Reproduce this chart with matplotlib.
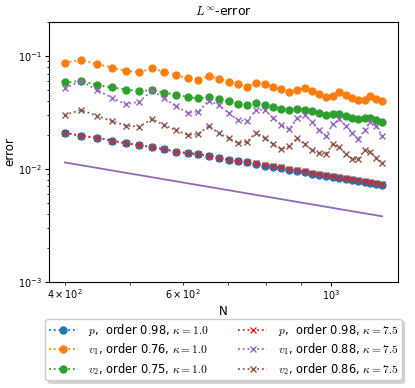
import matplotlib
matplotlib.use("Agg")
import matplotlib.pyplot as plt

plt.rcParams["mathtext.fontset"] = "cm"
plt.rcParams["font.family"] = ["DejaVu Sans"]

# grid sizes
N = [400, 423, 447, 470, 493, 517, 540, 563, 586, 610, 633, 656, 679, 703, 726, 749, 772, 796,
     819, 842, 865, 889, 912, 935, 958, 982, 1005, 1028, 1051, 1075, 1098, 1121, 1144, 1168, 1191]

# kappa = 1.0
p_k1 = [0.0208, 0.0197, 0.0188, 0.0178, 0.0169, 0.0162, 0.0156, 0.0149, 0.0142, 0.0138, 0.0135, 0.0130,
        0.0126, 0.0120, 0.0117, 0.0114, 0.0110, 0.0107, 0.0104, 0.0101, 0.00980, 0.00960, 0.00935,
        0.00909, 0.00885, 0.00867, 0.00850, 0.00827, 0.00811, 0.00795, 0.00783, 0.00768, 0.00752,
        0.00737, 0.00718]
v1_k1 = [0.0876, 0.0922, 0.0850, 0.0791, 0.0741, 0.0717, 0.0778, 0.0725, 0.0676, 0.0639, 0.0613, 0.0665,
         0.0632, 0.0595, 0.0563, 0.0535, 0.0573, 0.0568, 0.0535, 0.0507, 0.0480, 0.0500, 0.0516, 0.0487,
         0.0461, 0.0436, 0.0447, 0.0477, 0.0449, 0.0422, 0.0404, 0.0406, 0.0441, 0.0418, 0.0396]
v2_k1 = [0.0585, 0.0601, 0.0556, 0.0528, 0.0505, 0.0488, 0.0498, 0.0473, 0.0455, 0.0434, 0.0421, 0.0434,
         0.0414, 0.0397, 0.0378, 0.0371, 0.0384, 0.0370, 0.0356, 0.0342, 0.0331, 0.0340, 0.0334, 0.0323,
         0.0314, 0.0302, 0.0307, 0.0305, 0.0296, 0.0284, 0.0279, 0.0280, 0.0281, 0.0271, 0.0262]

# kappa = 7.5
p_k75 = [0.0208, 0.0197, 0.0188, 0.0178, 0.0169, 0.0162, 0.0156, 0.0149, 0.0142, 0.0138, 0.0135, 0.0130,
         0.0126, 0.0120, 0.0117, 0.0116, 0.0112, 0.0109, 0.0106, 0.0103, 0.00995, 0.00975, 0.00950,
         0.00923, 0.00898, 0.00880, 0.00863, 0.00840, 0.00823, 0.00807, 0.00795, 0.00780, 0.00763,
         0.00748, 0.00729]
v1_k75 = [0.0518, 0.0601, 0.0500, 0.0428, 0.0374, 0.0394, 0.0497, 0.0422, 0.0359, 0.0315, 0.0321, 0.0402,
          0.0368, 0.0311, 0.0271, 0.0266, 0.0333, 0.0333, 0.0281, 0.0245, 0.0225, 0.0281, 0.0301, 0.0262,
          0.0221, 0.0196, 0.0250, 0.0275, 0.0240, 0.0207, 0.0183, 0.0221, 0.0262, 0.0240, 0.0196]
v2_k75 = [0.0301, 0.0333, 0.0295, 0.0266, 0.0242, 0.0237, 0.0277, 0.0244, 0.0220, 0.0200, 0.0203, 0.0240,
          0.0207, 0.0187, 0.0169, 0.0174, 0.0210, 0.0187, 0.0165, 0.0149, 0.0158, 0.0187, 0.0166, 0.0147,
          0.0138, 0.0135, 0.0166, 0.0156, 0.0136, 0.0122, 0.0122, 0.0147, 0.0142, 0.0124, 0.0112]

# first order reference line
ref_N = [400, 1191]
ref_err = [0.0114, 0.0038]

series = [
    (p_k1, "o", "C0", r"$p$,  order 0.98, $\kappa = 1.0$"),
    (v1_k1, "o", "C1", r"$v_1$, order 0.76, $\kappa = 1.0$"),
    (v2_k1, "o", "C2", r"$v_2$, order 0.75, $\kappa = 1.0$"),
    (p_k75, "x", "C3", r"$p$,  order 0.98, $\kappa = 7.5$"),
    (v1_k75, "x", "C4", r"$v_1$, order 0.88, $\kappa = 7.5$"),
    (v2_k75, "x", "C5", r"$v_2$, order 0.86, $\kappa = 7.5$"),
]

fig = plt.figure(figsize=(4.15, 3.88), dpi=100)
fig.set_facecolor("white")
ax = fig.add_axes([0.118, 0.274, 0.841, 0.669])

for vals, marker, color, label in series:
    ax.loglog(N, vals, linestyle=":", marker=marker, color=color, label=label,
              markersize=5, linewidth=1.3)
ax.loglog(ref_N, ref_err, color="C4", linewidth=1.3)

ax.set_ylim(1e-3, 0.2)
ax.set_title(r"$L^\infty$-error", fontsize=9, pad=5)
ax.set_xlabel("N", fontsize=8.5, labelpad=2)
ax.set_ylabel("error", fontsize=8.5, labelpad=1)
ax.tick_params(which="both", labelsize=7, pad=2)
ax.tick_params(which="major", length=3)
ax.tick_params(which="minor", length=1.8)

ax.legend(loc="upper center", bbox_to_anchor=(0.5, -0.12), ncol=2, fontsize=8.3,
          shadow={"color": "0.7", "alpha": 0.5}, fancybox=True, columnspacing=2.6,
          handlelength=2.5, handletextpad=0.9, borderpad=0.3, labelspacing=0.3)

fig.savefig("out.png", dpi=100, facecolor="white")
